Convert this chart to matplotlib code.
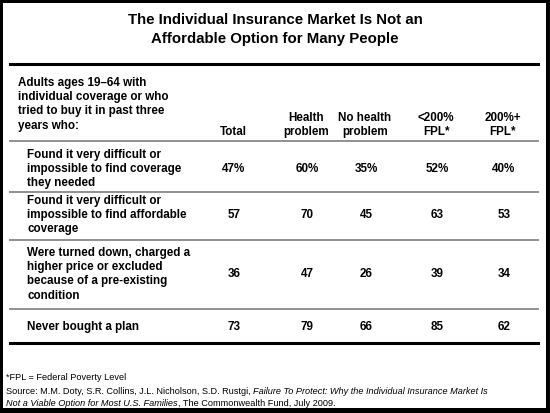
import matplotlib
matplotlib.use("Agg")
import matplotlib.pyplot as plt
from matplotlib.patches import Rectangle
from matplotlib.lines import Line2D

plt.rcParams['font.family'] = ['Liberation Sans', 'DejaVu Sans']

title_lines = ["The Individual Insurance Market Is Not an",
               "Affordable Option for Many People"]
header_label = ["Adults ages 19\u201364 with",
                "individual coverage or who",
                "tried to buy it in past three",
                "years who:"]
columns = [["Total"], ["Health", "problem"], ["No health", "problem"],
           ["<200%", "FPL*"], ["200%+", "FPL*"]]
row_labels = [["Found it very difficult or", "impossible to find coverage", "they needed"],
              ["Found it very difficult or", "impossible to find affordable", "coverage"],
              ["Were turned down, charged a", "higher price or excluded",
               "because of a pre-existing", "condition"],
              ["Never bought a plan"]]
values = [[47, 60, 35, 52, 40],
          [57, 70, 45, 63, 53],
          [36, 47, 26, 39, 34],
          [73, 79, 66, 85, 62]]
footnote = "*FPL = Federal Poverty Level"
src1a = "Source: M.M. Doty, S.R. Collins, J.L. Nicholson, S.D. Rustgi, "
src1b = "Failure To Protect: Why the Individual Insurance Market Is"
src2a = "Not a Viable Option for Most U.S. Families"
src2b = ", The Commonwealth Fund, July 2009."

W, H = 550, 413
fig = plt.figure(figsize=(W / 100, H / 100), dpi=100)

def fx(x):
    return x / W

def fy(y):
    return 1 - y / H

# frame
fig.patches.append(Rectangle((0, 0), 1, 1, transform=fig.transFigure,
                             facecolor='black', edgecolor='none', zorder=0))
fig.patches.append(Rectangle((fx(3), fy(408)), fx(546) - fx(3), fy(3) - fy(408),
                             transform=fig.transFigure, facecolor='white',
                             edgecolor='none', zorder=1))

def hline(y, color, lw):
    fig.add_artist(Line2D([fx(10), fx(538)], [fy(y), fy(y)], color=color, lw=lw,
                          transform=fig.transFigure, zorder=2))

# title
for i, t in enumerate(title_lines):
    fig.text(fx(275), fy(24 + 19.5 * i), t, ha='center', va='baseline',
             fontsize=10.8, fontweight='bold', color='black')

hline(63.5, 'black', 2.2)

LS = 14.2
BODY = 8.4
# header
for i, t in enumerate(header_label):
    fig.text(fx(18), fy(83 + LS * i), t, ha='left', va='center',
             fontsize=BODY, fontweight='bold')

col_x = [233, 306, 365, 436, 503]
for cx, lines in zip(col_x, columns):
    n = len(lines)
    for j, t in enumerate(lines):
        y = 132 - LS * (n - 1 - j)
        fig.text(fx(cx), fy(y), t, ha='center', va='center',
                 fontsize=BODY, fontweight='bold')

hline(141, '#909090', 1.4)

row_tops = [155, 201, 253, 327]
sep_lines = [192, 240, 309]
for r, (lab, vals) in enumerate(zip(row_labels, values)):
    top = row_tops[r]
    for j, t in enumerate(lab):
        fig.text(fx(27), fy(top + LS * j), t, ha='left', va='center',
                 fontsize=BODY, fontweight='bold')
    mid = top + LS * (len(lab) - 1) / 2
    for cx, v in zip(col_x, vals):
        s = f"{v}%" if r == 0 else f"{v}"
        fig.text(fx(cx + 1), fy(mid), s, ha='center', va='center',
                 fontsize=BODY, fontweight='bold')
    if r < len(sep_lines):
        hline(sep_lines[r], '#909090', 1.4)

hline(343, 'black', 2.2)

FN = 6.6
fig.text(fx(6), fy(378), footnote, ha='left', va='center', fontsize=FN)

fig.canvas.draw()
rend = fig.canvas.get_renderer()
t1 = fig.text(fx(6), fy(391), src1a, ha='left', va='center', fontsize=FN)
bb = t1.get_window_extent(renderer=rend)
fig.text(bb.x1 / W, fy(391), src1b, ha='left', va='center', fontsize=FN, style='italic')
t2 = fig.text(fx(6), fy(403), src2a, ha='left', va='center', fontsize=FN, style='italic')
bb2 = t2.get_window_extent(renderer=rend)
fig.text(bb2.x1 / W, fy(403), src2b, ha='left', va='center', fontsize=FN)

fig.savefig("out.png", dpi=100)
